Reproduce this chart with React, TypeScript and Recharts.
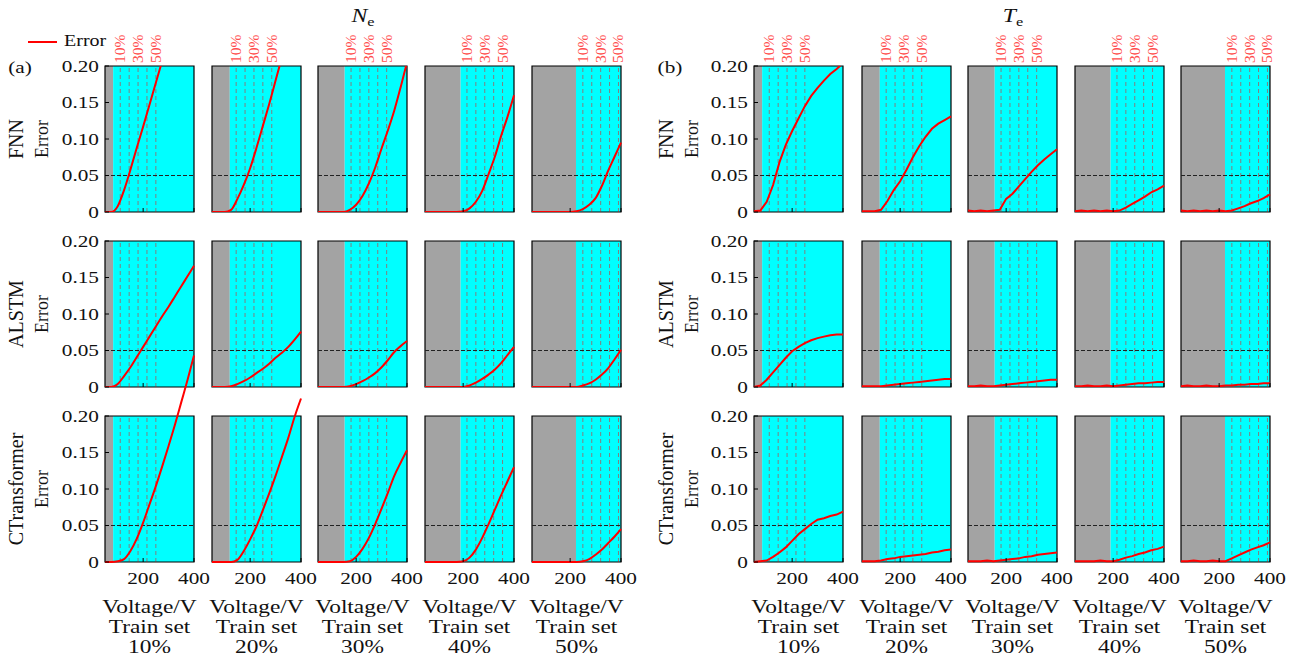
import React from 'react';
import { ComposedChart, Line, XAxis, YAxis, ReferenceArea, ReferenceLine } from 'recharts';

// ---- data ----
const voltage = [50, 75, 100, 125, 150, 175, 200, 225, 250, 275, 300, 325, 350, 375, 400];

const models = ['FNN', 'ALSTM', 'CTransformer'];
const trainSets = ['10%', '20%', '30%', '40%', '50%'];
const trainEnd = [82, 120, 155, 190, 223];
const markerLines = [
  [110, 145, 180, 215, 250],
  [145, 180, 215, 250, 285],
  [180, 215, 250, 285, 320],
  [215, 250, 285, 320, 355],
  [250, 285, 320, 355, 390],
];
const markerLabels = ['10%', '', '30%', '', '50%'];
const yTicks = [0, 0.05, 0.1, 0.15, 0.2];
const xTicks = [200, 400];

// N_e errors, one list per train set
const neFNN = [
  [0, 0, 0.008, 0.03, 0.058, 0.088, 0.117, 0.147, 0.177, 0.207, 0.237, 0.267, 0.297, 0.327, 0.357],
  [0, 0, 0, 0.003, 0.018, 0.037, 0.06, 0.088, 0.118, 0.148, 0.18, 0.212, 0.245, 0.278, 0.31],
  [0, 0, 0, 0, 0, 0.003, 0.01, 0.022, 0.039, 0.061, 0.087, 0.112, 0.139, 0.171, 0.205],
  [0, 0, 0, 0, 0, 0, 0.001, 0.005, 0.014, 0.029, 0.052, 0.076, 0.105, 0.131, 0.16],
  [0, 0, 0, 0, 0, 0, 0, 0.001, 0.004, 0.01, 0.019, 0.036, 0.057, 0.076, 0.095],
];
const neALSTM = [
  [0, 0, 0.004, 0.015, 0.027, 0.041, 0.055, 0.069, 0.083, 0.097, 0.11, 0.124, 0.138, 0.152, 0.166],
  [0, 0, 0, 0.001, 0.004, 0.008, 0.013, 0.019, 0.025, 0.032, 0.04, 0.047, 0.055, 0.065, 0.076],
  [0, 0, 0, 0, 0, 0.001, 0.004, 0.008, 0.013, 0.019, 0.027, 0.037, 0.048, 0.056, 0.063],
  [0, 0, 0, 0, 0, 0, 0, 0.002, 0.006, 0.011, 0.017, 0.024, 0.033, 0.044, 0.055],
  [0, 0, 0, 0, 0, 0, 0, 0, 0.002, 0.005, 0.01, 0.017, 0.026, 0.038, 0.051],
];
const neCTrans = [
  [0, 0, 0.001, 0.004, 0.015, 0.032, 0.054, 0.079, 0.104, 0.131, 0.159, 0.188, 0.219, 0.25, 0.283],
  [0, 0, 0, 0, 0.003, 0.015, 0.031, 0.049, 0.071, 0.094, 0.118, 0.144, 0.17, 0.199, 0.224],
  [0, 0, 0, 0, 0, 0.001, 0.007, 0.018, 0.033, 0.052, 0.073, 0.095, 0.118, 0.136, 0.153],
  [0, 0, 0, 0, 0, 0, 0.001, 0.006, 0.017, 0.033, 0.052, 0.072, 0.092, 0.111, 0.13],
  [0, 0, 0, 0, 0, 0, 0, 0, 0.001, 0.004, 0.01, 0.017, 0.026, 0.035, 0.045],
];

// T_e errors
const teFNN = [
  [0.001, 0.002, 0.014, 0.037, 0.068, 0.092, 0.111, 0.128, 0.145, 0.159, 0.17, 0.18, 0.189, 0.196, 0.204],
  [0.001, 0.001, 0.001, 0.003, 0.015, 0.03, 0.042, 0.058, 0.075, 0.09, 0.103, 0.114, 0.121, 0.126, 0.131],
  [0.002, 0.001, 0.002, 0.001, 0.002, 0.003, 0.018, 0.025, 0.035, 0.045, 0.055, 0.064, 0.072, 0.079, 0.086],
  [0.001, 0.002, 0.001, 0.002, 0.001, 0.002, 0.001, 0.002, 0.006, 0.011, 0.016, 0.021, 0.027, 0.031, 0.036],
  [0.002, 0.001, 0.002, 0.001, 0.002, 0.001, 0.002, 0.001, 0.002, 0.005, 0.008, 0.012, 0.015, 0.019, 0.024],
];
const teALSTM = [
  [0, 0.002, 0.01, 0.02, 0.03, 0.04, 0.049, 0.055, 0.06, 0.064, 0.067, 0.069, 0.071, 0.072, 0.072],
  [0.001, 0.001, 0.001, 0.001, 0.002, 0.003, 0.004, 0.005, 0.006, 0.007, 0.008, 0.009, 0.01, 0.011, 0.011],
  [0.001, 0.001, 0.002, 0.001, 0.001, 0.002, 0.003, 0.004, 0.005, 0.006, 0.007, 0.008, 0.009, 0.01, 0.01],
  [0.001, 0.001, 0.002, 0.001, 0.001, 0.002, 0.001, 0.002, 0.003, 0.004, 0.005, 0.005, 0.006, 0.007, 0.007],
  [0.001, 0.002, 0.001, 0.001, 0.002, 0.001, 0.001, 0.002, 0.002, 0.003, 0.003, 0.004, 0.004, 0.005, 0.005],
];
const teCTrans = [
  [0, 0.001, 0.002, 0.007, 0.013, 0.02, 0.029, 0.038, 0.045, 0.052, 0.058, 0.06, 0.063, 0.065, 0.069],
  [0.001, 0.001, 0.001, 0.002, 0.004, 0.005, 0.007, 0.008, 0.009, 0.01, 0.011, 0.013, 0.014, 0.016, 0.017],
  [0.001, 0.001, 0.001, 0.002, 0.001, 0.002, 0.003, 0.004, 0.005, 0.007, 0.008, 0.01, 0.011, 0.012, 0.013],
  [0.001, 0.001, 0.001, 0.001, 0.002, 0.001, 0.001, 0.003, 0.006, 0.008, 0.011, 0.013, 0.016, 0.018, 0.021],
  [0.001, 0.001, 0.002, 0.001, 0.001, 0.002, 0.001, 0.001, 0.005, 0.009, 0.013, 0.017, 0.02, 0.023, 0.027],
];

const neRows = [neFNN, neALSTM, neCTrans];
const teRows = [teFNN, teALSTM, teCTrans];

// ---- layout ----
const FONT = "'Liberation Serif', 'Times New Roman', serif";
const SX = 1.25; // horizontal text in the figure is drawn wide
const PW = 89;
const PH = 146;
const AXW = 60; // y axis strip
const MR = 28; // room for the "400" label
const GROUP_LEFT = [
  [105, 212, 318, 425, 532],
  [754, 862, 968, 1075, 1181],
];
const ROW_TOP = [66, 241, 416];

function WideText({ x, y, anchor = 'middle', size = 17, sx = SX, fill = '#111', children }: any) {
  return (
    <text
      transform={`translate(${x},${y}) scale(${sx},1)`}
      textAnchor={anchor}
      fontFamily={FONT}
      fontSize={size}
      fill={fill}
    >
      {children}
    </text>
  );
}

const YTick = (props: any) => {
  const { y, payload } = props;
  const v = payload.value;
  return (
    <g>
      <line x1={AXW} x2={AXW + 4} y1={y} y2={y} stroke="#000" />
      <WideText x={AXW - 6} y={y + 5.5} anchor="end">
        {v === 0 ? '0' : v.toFixed(2)}
      </WideText>
    </g>
  );
};

const XTick = (props: any) => {
  const { x, payload, plotBottom, showLabel } = props;
  return (
    <g>
      <line x1={x} x2={x} y1={plotBottom} y2={plotBottom - 4} stroke="#000" />
      {showLabel && (
        <WideText x={x} y={plotBottom + 22}>
          {payload.value}
        </WideText>
      )}
    </g>
  );
};

const PctLabel = (props: any) => {
  const { viewBox, text } = props;
  if (!text || !viewBox) return null;
  return (
    <text
      transform={`translate(${viewBox.x + 5},${viewBox.y - 3}) rotate(-90)`}
      fontFamily={FONT}
      fontSize={15.5}
      fill="#ff4d4d"
    >
      {text}
    </text>
  );
};

function Panel({ left, top, row, col, values, curve }: any) {
  const overflow = row === 2; // bottom row draws past the top of the box
  const extra = overflow ? 73 : 0;
  const mt = overflow ? 10 : 40;
  const plotH = PH + extra;
  const width = AXW + PW + MR;
  const height = mt + plotH + 40;
  const data = voltage.map((v, i) => ({ v, err: values[i] }));

  return (
    <div style={{ position: 'absolute', left: left - AXW, top: top - extra - mt, width, height }}>
      <ComposedChart width={width} height={height} data={data} margin={{ top: mt, right: MR, bottom: 0, left: 0 }}>
        <XAxis
          type="number"
          dataKey="v"
          domain={[50, 400]}
          ticks={xTicks}
          interval={0}
          height={40}
          axisLine={false}
          tickLine={false}
          tickSize={0}
          tick={<XTick plotBottom={mt + plotH} showLabel={row === 2} />}
        />
        <YAxis
          type="number"
          domain={[0, overflow ? 0.3 : 0.2]}
          allowDataOverflow={!overflow}
          ticks={yTicks}
          interval={0}
          width={AXW}
          axisLine={false}
          tickLine={false}
          tickSize={0}
          tick={col === 0 ? <YTick /> : false}
        />
        <ReferenceArea x1={50} x2={trainEnd[col]} y1={0} y2={0.2} fill="#a3a3a3" fillOpacity={1} stroke="none" />
        <ReferenceArea x1={trainEnd[col]} x2={400} y1={0} y2={0.2} fill="#00ffff" fillOpacity={1} stroke="none" />
        {markerLines[col].map((m, j) => (
          <ReferenceLine
            key={j}
            segment={[{ x: m, y: 0 }, { x: m, y: 0.2 }]}
            stroke="#ff0000"
            strokeOpacity={0.5}
            strokeDasharray="4 3"
            label={row === 0 ? <PctLabel text={markerLabels[j]} /> : undefined}
          />
        ))}
        <ReferenceLine y={0.05} stroke="#222" strokeDasharray="4 2" />
        <ReferenceArea x1={50} x2={400} y1={0} y2={0.2} fill="none" stroke="#000" strokeWidth={1.2} />
        <Line
          type={curve}
          dataKey="err"
          stroke="#ff0000"
          strokeWidth={2}
          dot={false}
          isAnimationActive={false}
        />
      </ComposedChart>
    </div>
  );
}

function Labels() {
  const groups = [
    { tag: '(a)', tagX: 20, rowX: 23, errX: 48, title: 'N', titleX: 363 },
    { tag: '(b)', tagX: 670, rowX: 673, errX: 698, title: 'T', titleX: 1013 },
  ];
  return (
    <svg width={1303} height={662} style={{ position: 'absolute', left: 0, top: 0 }}>
      {/* legend */}
      <line x1={28} x2={57} y1={42} y2={42} stroke="#ff0000" strokeWidth={2} />
      <WideText x={64} y={46} anchor="start" size={16}>Error</WideText>
      {groups.map((g, gi) => (
        <g key={gi}>
          <text
            transform={`translate(${g.titleX},22) scale(${SX},1)`}
            textAnchor="middle"
            fontFamily={FONT}
            fontSize={19}
            fill="#111"
          >
            <tspan fontStyle="italic">{g.title}</tspan>
            <tspan fontSize={13} dy={4}>e</tspan>
          </text>
          <WideText x={g.tagX} y={73} size={17}>{g.tag}</WideText>
          {models.map((m, r) => (
            <g key={m}>
              <text
                transform={`translate(${g.rowX},${ROW_TOP[r] + 73}) rotate(-90)`}
                textAnchor="middle"
                fontFamily={FONT}
                fontSize={20}
                fill="#111"
              >
                {m}
              </text>
              <text
                transform={`translate(${g.errX},${ROW_TOP[r] + 73}) rotate(-90)`}
                textAnchor="middle"
                fontFamily={FONT}
                fontSize={18}
                fill="#111"
              >
                Error
              </text>
            </g>
          ))}
          {trainSets.map((t, c) => {
            const cx = GROUP_LEFT[gi][c] + PW / 2;
            return (
              <g key={t}>
                <WideText x={cx} y={613} size={18} sx={1.3}>Voltage/V</WideText>
                <WideText x={cx} y={633} size={18} sx={1.3}>Train set</WideText>
                <WideText x={cx} y={653} size={18} sx={1.3}>{t}</WideText>
              </g>
            );
          })}
        </g>
      ))}
    </svg>
  );
}

export default function App() {
  const panels: any[] = [];
  [neRows, teRows].forEach((rows, gi) => {
    rows.forEach((model, r) => {
      model.forEach((values, c) => {
        panels.push(
          <Panel
            key={`${gi}-${r}-${c}`}
            left={GROUP_LEFT[gi][c]}
            top={ROW_TOP[r]}
            row={r}
            col={c}
            values={values}
            curve={gi === 0 ? 'monotone' : 'linear'}
          />
        );
      });
    });
  });

  return (
    <div style={{ position: 'absolute', left: 0, top: 0, width: 1303, height: 662, background: '#fff', fontFamily: FONT }}>
      <Labels />
      {panels}
    </div>
  );
}
